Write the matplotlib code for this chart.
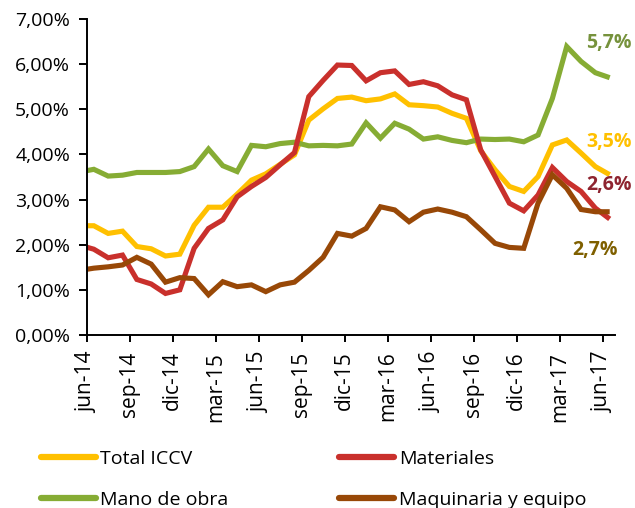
import matplotlib
matplotlib.use("Agg")
import matplotlib.pyplot as plt
from matplotlib.ticker import FuncFormatter, FixedLocator

plt.rcParams['font.family'] = ['Open Sans', 'DejaVu Sans']

# Monthly data, may-14 (first point, clipped at the axis) to jun-17
months = ["may-14", "jun-14", "jul-14", "ago-14", "sep-14", "oct-14", "nov-14", "dic-14",
          "ene-15", "feb-15", "mar-15", "abr-15", "may-15", "jun-15", "jul-15", "ago-15",
          "sep-15", "oct-15", "nov-15", "dic-15", "ene-16", "feb-16", "mar-16", "abr-16",
          "may-16", "jun-16", "jul-16", "ago-16", "sep-16", "oct-16", "nov-16", "dic-16",
          "ene-17", "feb-17", "mar-17", "abr-17", "may-17", "jun-17"]

total_iccv = [2.42, 2.42, 2.25, 2.30, 1.96, 1.91, 1.75, 1.79, 2.43, 2.83, 2.83, 3.12,
              3.43, 3.57, 3.78, 3.99, 4.76, 5.01, 5.24, 5.27, 5.19, 5.23, 5.34, 5.10,
              5.08, 5.05, 4.91, 4.80, 4.08, 3.66, 3.29, 3.18, 3.51, 4.21, 4.32, 4.03,
              3.73, 3.55]
materiales = [1.99, 1.90, 1.71, 1.77, 1.23, 1.13, 0.92, 1.00, 1.92, 2.36, 2.55, 3.06,
              3.29, 3.49, 3.77, 4.04, 5.28, 5.64, 5.98, 5.97, 5.63, 5.81, 5.85, 5.55,
              5.61, 5.52, 5.32, 5.21, 4.10, 3.51, 2.92, 2.75, 3.10, 3.71, 3.40, 3.18,
              2.81, 2.57]
mano_obra = [3.61, 3.67, 3.52, 3.54, 3.60, 3.60, 3.60, 3.62, 3.73, 4.12, 3.75, 3.62,
             4.20, 4.17, 4.24, 4.27, 4.19, 4.20, 4.19, 4.23, 4.70, 4.36, 4.69, 4.56,
             4.34, 4.39, 4.31, 4.26, 4.34, 4.33, 4.34, 4.28, 4.43, 5.24, 6.39, 6.06,
             5.81, 5.70]
maquinaria = [1.43, 1.48, 1.51, 1.55, 1.72, 1.57, 1.17, 1.27, 1.25, 0.89, 1.18, 1.07,
              1.11, 0.96, 1.11, 1.17, 1.43, 1.72, 2.25, 2.19, 2.36, 2.84, 2.77, 2.51,
              2.72, 2.79, 2.72, 2.62, 2.33, 2.03, 1.94, 1.92, 2.92, 3.55, 3.25, 2.78,
              2.73, 2.73]

tick_labels = ["jun-14", "sep-14", "dic-14", "mar-15", "jun-15", "sep-15", "dic-15",
               "mar-16", "jun-16", "sep-16", "dic-16", "mar-17", "jun-17"]
end_labels = ["5,7%", "3,5%", "2,6%", "2,7%"]

series_names = ["Total ICCV", "Mano de obra", "Materiales", "Maquinaria y equipo"]
colors = ["#FFC000", "#86AC34", "#C9302C", "#984807"]
label_colors = ["#76923C", "#FFC000", "#8E2430", "#7F6000"]

FS = 14

# x position: months since 1-jun-14, points at mid-month
x = [i - 0.5 for i in range(len(months))]

fig = plt.figure(figsize=(6.35, 5.08), dpi=100)
ax = fig.add_axes([0.1365, 0.3406, 0.832, 0.622])

handles = []
for vals, name, c in zip([total_iccv, mano_obra, materiales, maquinaria], series_names, colors):
    h, = ax.plot(x, vals, color=c, lw=3.7, solid_joinstyle='miter', solid_capstyle='butt', label=name)
    handles.append(h)

ax.set_xlim(0, 36.87)
ax.set_ylim(0, 7)
ax.xaxis.set_major_locator(FixedLocator(list(range(0, 37, 3))))
ax.set_xticklabels(tick_labels, rotation=90)
ax.set_yticks([0, 1, 2, 3, 4, 5, 6, 7])
ax.yaxis.set_major_formatter(FuncFormatter(lambda v, p: f"{v:.2f}".replace(".", ",") + "%"))
ax.tick_params(axis='both', direction='out', length=5, width=1.4, colors='black', labelsize=FS)
ax.tick_params(axis='x', pad=7, labelsize=15)
ax.tick_params(axis='y', pad=6, length=6)
for s in ['top', 'right']:
    ax.spines[s].set_visible(False)
for s in ['left', 'bottom']:
    ax.spines[s].set_linewidth(1.4)
    ax.spines[s].set_color('black')

# end-of-series labels
label_pos = [(36.45, 6.46), (36.45, 4.28), (36.45, 3.32), (35.47, 1.89)]
for (lx, ly), t, c in zip(label_pos, end_labels, label_colors):
    ax.text(lx, ly, t, color=c, fontsize=FS, fontweight='bold', ha='center', va='center', clip_on=False)

leg = fig.legend(handles=handles, labels=series_names, ncol=2, loc='upper left',
                 bbox_to_anchor=(0.0646, 0.115),
                 frameon=False, fontsize=FS, handlelength=2.83, handletextpad=0.22,
                 columnspacing=5.7, labelspacing=1.18, borderpad=0, borderaxespad=0)
for lh in leg.get_lines():
    lh.set_linewidth(4.5)
    lh.set_solid_capstyle('round')

fig.savefig("out.png", dpi=100)
